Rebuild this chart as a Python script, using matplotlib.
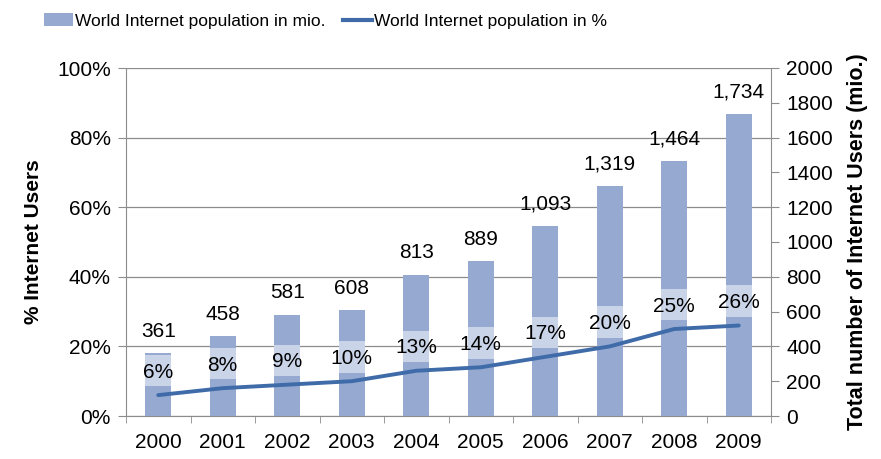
import matplotlib
matplotlib.use("Agg")
import matplotlib.pyplot as plt
from matplotlib.patches import Rectangle, Patch
from matplotlib.lines import Line2D
import numpy as np

years = ["2000", "2001", "2002", "2003", "2004", "2005", "2006", "2007", "2008", "2009"]
users_mio = [361, 458, 581, 608, 813, 889, 1093, 1319, 1464, 1734]
users_pct = [6, 8, 9, 10, 13, 14, 17, 20, 25, 26]
bar_labels = ["361", "458", "581", "608", "813", "889", "1,093", "1,319", "1,464", "1,734"]

plt.rcParams['font.family'] = ['Liberation Sans', 'DejaVu Sans']

BAR_COLOR = "#95A9D1"
LINE_COLOR = "#3F6BA8"
GRID = "#8C8C8C"
FS = 15

fig = plt.figure(figsize=(8.81, 4.59), dpi=100)
ax = fig.add_axes([126/881, 1-416/459, (771-126)/881, (416-68)/459])
ax2 = ax.twinx()
ax3 = ax.twinx()

x = np.arange(len(years))

# left axis: grid + ticks
ax.set_ylim(0, 100)
ax.set_xlim(-0.5, len(years)-0.5)
ax.set_yticks(np.arange(0, 101, 20))
ax.set_yticklabels([f"{v}%" for v in range(0, 101, 20)], fontsize=FS)
ax.yaxis.grid(True, color=GRID, linewidth=0.9)
ax.set_axisbelow(True)
ax.set_xticks(x)
ax.set_xticklabels(years, fontsize=FS)
ax.set_xticks(np.arange(-0.5, len(years), 1), minor=True)
ax.tick_params(axis='x', which='major', length=0, pad=12)
ax.tick_params(axis='x', which='minor', length=5, color=GRID)
ax.tick_params(axis='y', length=6, color=GRID, pad=5)
for s in ['top', 'right']:
    ax.spines[s].set_visible(False)
for s in ['left', 'bottom']:
    ax.spines[s].set_color(GRID)
ax.set_ylabel("% Internet Users", fontsize=15, fontweight='bold', labelpad=10)

# right axis: bars
ax2.bar(x, users_mio, width=0.4, color=BAR_COLOR, zorder=2)
ax2.set_ylim(0, 2000)
ax2.set_yticks(np.arange(0, 2001, 200))
ax2.set_yticklabels([str(v) for v in range(0, 2001, 200)], fontsize=FS)
ax2.tick_params(axis='y', length=6, color=GRID, pad=5)
for s in ['top', 'left', 'bottom']:
    ax2.spines[s].set_visible(False)
ax2.spines['right'].set_color(GRID)
ax2.set_ylabel("Total number of Internet Users (mio.)", fontsize=15.5, fontweight='bold', labelpad=10)
for xi, v, lab in zip(x, users_mio, bar_labels):
    ax2.annotate(lab, (xi, v), xytext=(0, 9), textcoords='offset points',
                 ha='center', va='bottom', fontsize=FS)

# line + percent labels
ax3.set_ylim(0, 100)
ax3.axis('off')
ax3.set_xlim(-0.5, len(years)-0.5)
for xi, p in zip(x, users_pct):
    ax3.add_patch(Rectangle((xi-0.2, p+7-4.5), 0.4, 9, facecolor='white', alpha=0.5,
                            edgecolor='none', zorder=1))
ax3.plot(x, users_pct, color=LINE_COLOR, linewidth=2.8, zorder=2, solid_capstyle='round')
for xi, p in zip(x, users_pct):
    ax3.text(xi, p+6.6, f"{p}%", ha='center', va='center', fontsize=FS, zorder=3)

handles = [Patch(facecolor=BAR_COLOR, edgecolor='none'),
           Line2D([0], [0], color=LINE_COLOR, linewidth=3)]
fig.legend(handles, ["World Internet population in mio.", "World Internet population in %"],
           loc='upper left', bbox_to_anchor=(28/881, 1.005), ncol=2, frameon=False,
           prop={'size': 12.5},
           handlelength=1.7, handleheight=0.75, handletextpad=0.1, columnspacing=1.0)

fig.savefig("out.png", dpi=100)
